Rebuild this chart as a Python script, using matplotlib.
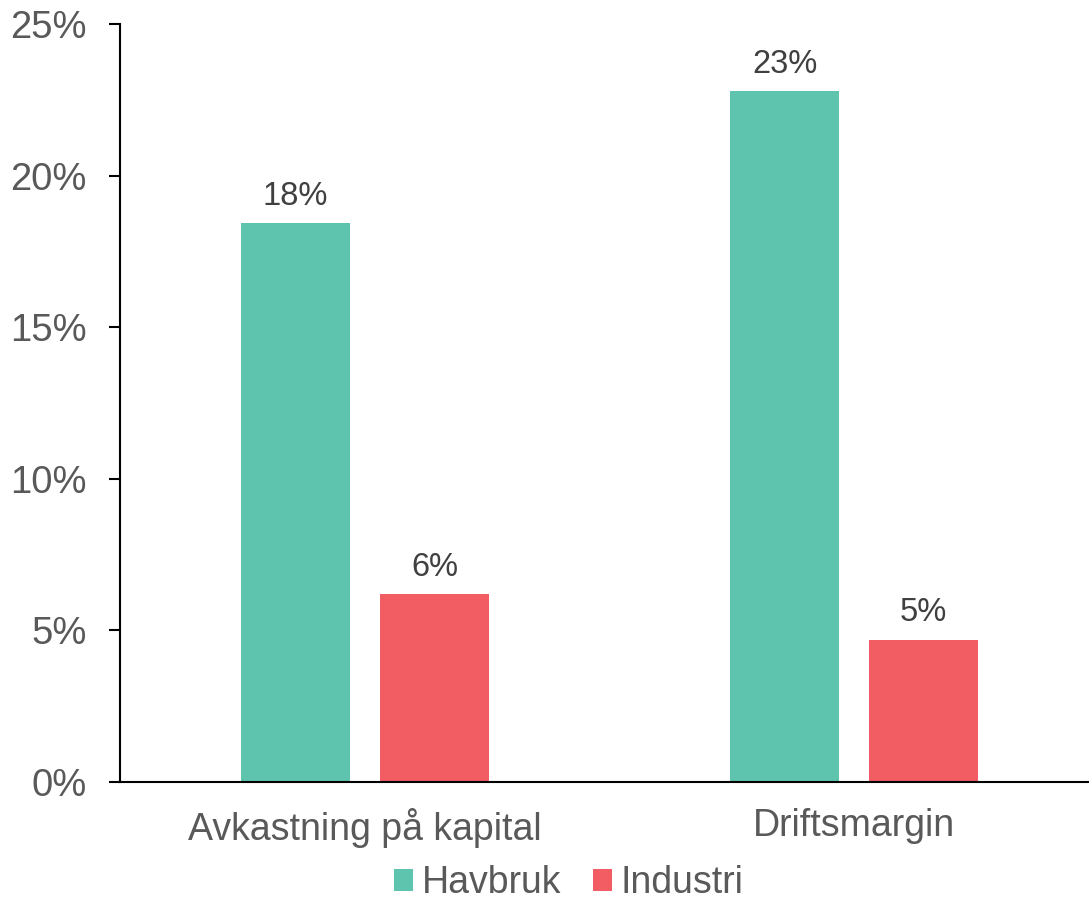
import numpy as np
import matplotlib.pyplot as plt
from matplotlib.ticker import FuncFormatter

plt.rcParams['font.family'] = ['Liberation Sans', 'DejaVu Sans']

categories = ['Avkastning på kapital', 'Driftsmargin']
havbruk = [18.45, 22.8]
industri = [6.2, 4.7]
series_names = ['Havbruk', 'Industri']
labels_havbruk = ['18%', '23%']
labels_industri = ['6%', '5%']

green = '#5fc4ad'
red = '#f15d63'

fig = plt.figure(figsize=(10.89, 9.07), dpi=100)
ax = fig.add_axes([0.110, 0.1378, 0.890, 0.8357])

x = np.arange(len(categories))
w = 0.223
off = 0.142
b1 = ax.bar(x - off, havbruk, w, color=green, label=series_names[0])
b2 = ax.bar(x + off, industri, w, color=red, label=series_names[1])

for bars, labs in [(b1, labels_havbruk), (b2, labels_industri)]:
    for bar, lab in zip(bars, labs):
        ax.annotate(lab, (bar.get_x() + bar.get_width() / 2, bar.get_height()),
                    xytext=(0, 8), textcoords='offset points',
                    ha='center', va='bottom', fontsize=23.5, color='#404040')

ax.set_xlim(-0.501, 1.48)
ax.set_ylim(0, 25)
ax.set_yticks([0, 5, 10, 15, 20, 25])
ax.yaxis.set_major_formatter(FuncFormatter(lambda v, p: f'{v:.0f}%'))
ax.set_xticks(x)
ax.set_xticklabels(categories)

for s in ['top', 'right']:
    ax.spines[s].set_visible(False)
for s in ['left', 'bottom']:
    ax.spines[s].set_linewidth(1.5)
    ax.spines[s].set_color('black')

ax.tick_params(axis='y', length=8, width=1.5, labelsize=27.5, labelcolor='#595959', pad=16)
ax.tick_params(axis='x', length=0, labelsize=27, labelcolor='#595959', pad=19)

fig.legend(loc='center', bbox_to_anchor=(0.522, 0.026), ncol=2, frameon=False,
           fontsize=27, labelcolor='#595959', handlelength=0.52, handleheight=0.52,
           handletextpad=0.22, columnspacing=0.85, borderaxespad=0)

fig.savefig('out.png', dpi=100)
